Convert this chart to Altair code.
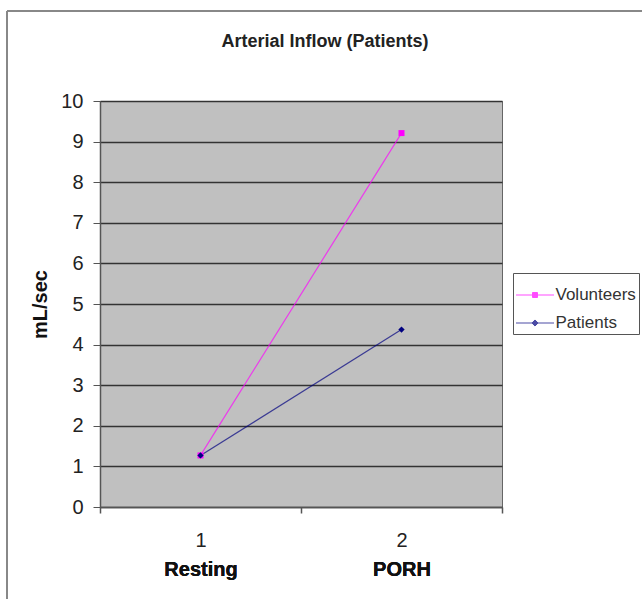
import json
import altair as alt
import pandas as pd

# ---- data ----
stages = ["Resting", "PORH"]
stage_nums = [1, 2]
series_names = ["Volunteers", "Patients"]
volunteers = [1.27, 9.21]
patients = [1.27, 4.37]
y_ticks = list(range(0, 11))
x_bounds = [0.5, 1.5, 2.5]
series_colors = ["#ff00ff", "#000080"]
marker_shapes = ["square", "diamond"]
legend_shapes = [
    "M-1,0H1M-0.13,-0.13H0.13V0.13H-0.13ZM-0.06,-0.06H0.06V0.06H-0.06Z",
    "M-1,0H1M0,-0.16L0.16,0L0,0.16L-0.16,0ZM0,-0.08L0.08,0L0,0.08L-0.08,0Z",
]

rows = []
for name, vals in zip(series_names, [volunteers, patients]):
    for n, s, v in zip(stage_nums, stages, vals):
        rows.append({"series": name, "num": n, "stage": s, "value": v})
df = pd.DataFrame(rows)

FONT = "Liberation Sans"
xscale = alt.Scale(domain=[0.5, 2.5], nice=False, zero=False)
yscale = alt.Scale(domain=[0, 10], nice=False, zero=True)

yenc = alt.Y(
    "value:Q",
    scale=yscale,
    axis=alt.Axis(
        values=y_ticks,
        title="mL/sec",
        titleFont=FONT,
        titleFontSize=20,
        titleFontWeight="bold",
        titleColor="#111",
        titlePadding=10,
        labelFont=FONT,
        labelFontSize=20,
        labelColor="#222",
        labelPadding=10,
        tickSize=7,
        tickColor="#555",
        domainColor="#555",
        domainWidth=1.5,
        grid=True,
        gridColor="#333333",
        gridWidth=1.5,
        gridOpacity=1,
    ),
)

legend = alt.Legend(
    title=None,
    orient="none",
    legendX=413,
    legendY=172,
    fillColor="white",
    strokeColor="#555",
    padding=2.5,
    labelFont=FONT,
    labelFontSize=17,
    labelColor="#333",
    labelOffset=1,
    symbolSize=1444,
    symbolStrokeWidth=1,
    rowPadding=0,
)

color = alt.Color(
    "series:N",
    scale=alt.Scale(domain=series_names, range=series_colors),
    legend=legend,
)

lines = alt.Chart(df).mark_line(strokeWidth=1.2, opacity=0.7).encode(
    x=alt.X(
        "num:Q",
        scale=xscale,
        axis=alt.Axis(
            orient="bottom",
            values=stage_nums,
            format="d",
            title=None,
            ticks=False,
            grid=False,
            domain=True,
            domainColor="#555",
            domainWidth=1.5,
            labelFont=FONT,
            labelFontSize=20,
            labelColor="#222",
            labelPadding=23,
        ),
    ),
    y=yenc,
    color=color,
    detail="series:N",
)

stage_expr = json.dumps(stages) + "[datum.value - 1]"
xlab = alt.X(
    "num:Q",
    scale=xscale,
    axis=alt.Axis(
        orient="bottom",
        values=stage_nums,
        labelExpr=stage_expr,
        title=None,
        ticks=False,
        grid=False,
        domain=False,
        labelFont=FONT,
        labelFontSize=20,
        labelFontWeight="bold",
        labelColor="#111",
        labelPadding=52,
    ),
)

point_layers = []
for name, shp, sz in zip(series_names, marker_shapes, [36, 40]):
    point_layers.append(
        alt.Chart(df)
        .transform_filter(alt.datum.series == name)
        .mark_point(filled=True, size=sz, opacity=1, shape=shp)
        .encode(x=xlab, y=yenc, color=color)
    )

# legend-only layer: no rows survive the filter, the legend comes from the scale domains
legend_layer = (
    alt.Chart(df)
    .transform_filter(alt.datum.value < 0)
    .mark_point(filled=False, size=1444, opacity=1, strokeWidth=1)
    .encode(
        x=xlab,
        y=yenc,
        color=color,
        shape=alt.Shape(
            "series:N",
            scale=alt.Scale(domain=series_names, range=legend_shapes),
            legend=legend,
        ),
    )
)

ticks = alt.Chart(df).mark_point(opacity=0).encode(
    x=alt.X(
        "num:Q",
        scale=xscale,
        axis=alt.Axis(
            orient="bottom",
            values=x_bounds,
            labels=False,
            title=None,
            grid=False,
            domain=False,
            ticks=True,
            tickSize=6,
            tickColor="#555",
            tickWidth=1.5,
        ),
    ),
    y=yenc,
)

border_left = alt.Chart(df).mark_rule(color="#888", strokeWidth=2).encode(
    x=alt.value(-93), y=alt.value(-90), y2=alt.value(520)
)
border_top = alt.Chart(df).mark_rule(color="#888", strokeWidth=2).encode(
    x=alt.value(-93), x2=alt.value(560), y=alt.value(-90)
)

chart = (
    alt.layer(border_left, border_top, lines, *point_layers, legend_layer, ticks)
    .resolve_scale(x="independent")
    .properties(
        width=402,
        height=406,
        padding={"left": 100, "top": 101, "right": 140, "bottom": 92},
        autosize=alt.AutoSizeParams(type="none"),
        background="white",
        title=alt.TitleParams(
            "Arterial Inflow (Patients)",
            font=FONT,
            fontSize=18,
            fontWeight="bold",
            color="#222",
            anchor="middle",
            baseline="alphabetic",
            dx=24,
            offset=0,
            dy=55,
        ),
    )
    .configure_view(fill="#c0c0c0", stroke="#666666", strokeWidth=1)
)

chart.save("out.html", embed_options={"renderer": "svg", "actions": False})
